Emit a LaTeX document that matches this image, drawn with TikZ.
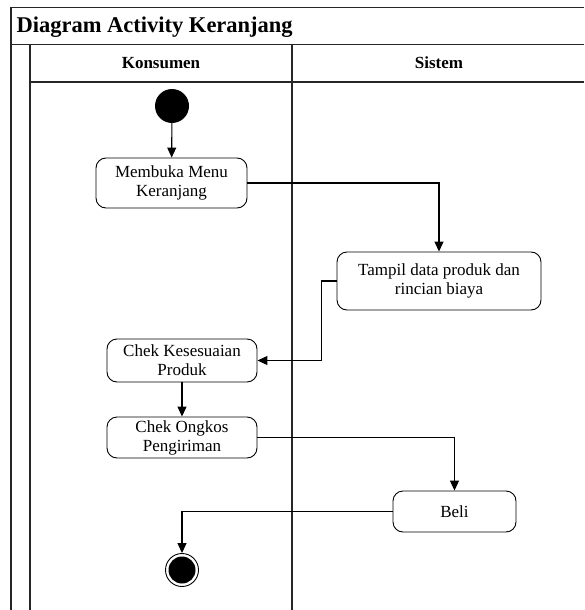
\documentclass[tikz,border=0pt]{standalone}
\usepackage{fontspec}
\setmainfont{Liberation Serif}
\usetikzlibrary{arrows.meta}

\tikzset{
  every picture/.append style={x=1pt, y=-1pt},
  lane/.style={line width=1.3pt, black!85},
  aksi/.style={draw, rounded corners=10pt, line width=0.9pt, align=center,
    inner sep=0pt, font=\fontsize{17}{19}\selectfont},
  awal/.style={circle, fill=black, minimum size=34pt, inner sep=0pt},
  akhir/.style={circle, draw, line width=0.9pt, minimum size=33pt, inner sep=0pt,
    path picture={\fill (path picture bounding box.center) circle (13.5pt);}},
  alur/.style={line width=1.1pt, -{Triangle[length=10pt, width=9pt]}},
}

\begin{document}
\begin{tikzpicture}
  \useasboundingbox (0,0) rectangle (584,610);

  % swimlane frame
  \draw[lane] (11,610) -- (11,7.5) -- (584,7.5);
  \draw[lane] (11,44.5) -- (584,44.5);
  \draw[lane] (30,610) -- (30,44.5);
  \draw[lane] (30,82) -- (584,82);
  \draw[lane] (292,44.5) -- (292,610);

  \node[anchor=west, font=\fontsize{22.5}{24}\selectfont\bfseries] (judul) at (13,27) {Diagram Activity Keranjang};
  \node[font=\fontsize{17}{19}\selectfont\bfseries] (konsumen) at (161,63) {Konsumen};
  \node[font=\fontsize{17}{19}\selectfont\bfseries] (sistem) at (439,63) {Sistem};

  % activities
  \node[awal] (mulai) at (172,106) {};
  \node[aksi, minimum width=151pt, minimum height=50pt] (membuka) at (171.5,183) {Membuka Menu\\Keranjang};
  \node[aksi, minimum width=204pt, minimum height=58pt] (tampil) at (439,281) {Tampil data produk dan\\rincian biaya};
  \node[aksi, minimum width=150pt, minimum height=43pt] (cek) at (182,360.5) {Chek Kesesuaian\\Produk};
  \node[aksi, minimum width=150pt, minimum height=41pt] (ongkos) at (182,437.5) {Chek Ongkos\\Pengiriman};
  \node[aksi, minimum width=123pt, minimum height=41pt] (beli) at (454.5,511.5) {Beli};
  \node[akhir] (selesai) at (182,570) {};

  % flow
  \draw[alur] (mulai) -- (membuka);
  \draw[alur] (membuka.east) -| (tampil.north);
  \draw[alur] (tampil.west) -- ++(-15,0) |- (cek.east);
  \draw[alur] (cek) -- (ongkos);
  \draw[alur] (ongkos.east) -| (beli.north);
  \draw[alur] (beli.west) -| (selesai.north);
\end{tikzpicture}
\end{document}
